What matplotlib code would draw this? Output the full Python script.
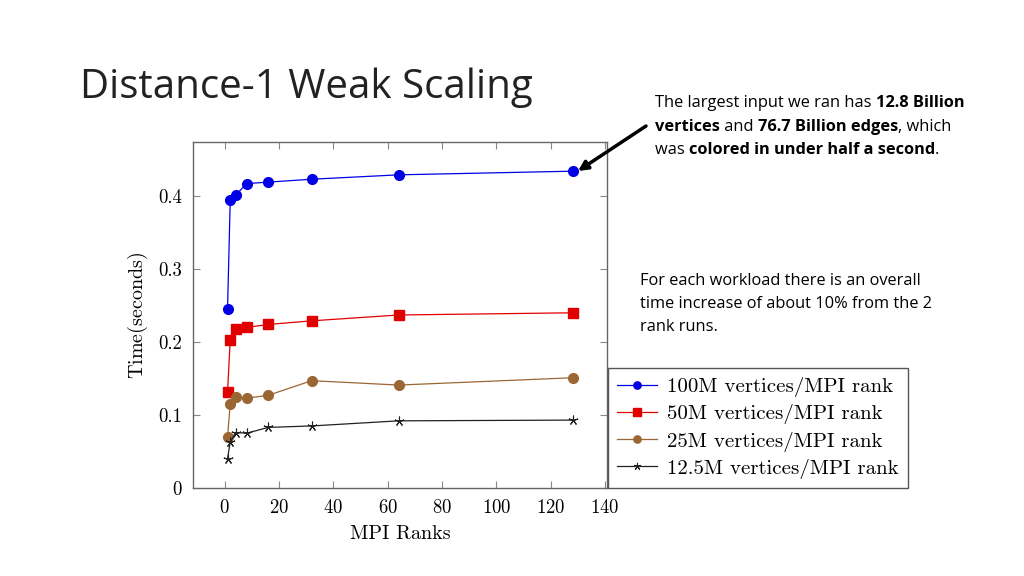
import matplotlib
matplotlib.use("Agg")
from matplotlib import pyplot as plt

ranks = [1, 2, 4, 8, 16, 32, 64, 128]
t_100m = [0.245, 0.394, 0.401, 0.417, 0.419, 0.423, 0.429, 0.434]
t_50m = [0.131, 0.203, 0.218, 0.220, 0.224, 0.229, 0.237, 0.240]
t_25m = [0.070, 0.115, 0.125, 0.123, 0.127, 0.147, 0.141, 0.151]
t_12m = [0.040, 0.063, 0.076, 0.075, 0.083, 0.085, 0.092, 0.093]
series_labels = ['100M vertices/MPI rank', '50M vertices/MPI rank',
                 '25M vertices/MPI rank', '12.5M vertices/MPI rank']
x_ticks = [0, 20, 40, 60, 80, 100, 120, 140]
y_ticks = [0, 0.1, 0.2, 0.3, 0.4]

plt.rcParams['font.family'] = 'cmr10'
plt.rcParams['mathtext.fontset'] = 'cm'
plt.rcParams['axes.formatter.use_mathtext'] = True

fig = plt.figure(figsize=(10.24, 5.76), dpi=100)
ax = fig.add_axes([0.1885, 0.1528, 0.4043, 0.6007])

ax.plot(ranks, t_100m, color='#0000e6', lw=0.9, marker='o', ms=7, label=series_labels[0])
ax.plot(ranks, t_50m, color='#e00000', lw=0.9, marker='s', ms=7, label=series_labels[1])
ax.plot(ranks, t_25m, color='#9a6634', lw=0.9, marker='o', ms=7, label=series_labels[2])
ax.plot(ranks, t_12m, color='#222222', lw=0.9, marker=(5, 2), ms=7, mew=0.8, label=series_labels[3])

ax.set_xlim(-11.7, 140.7)
ax.set_ylim(0, 0.474)
ax.set_xticks(x_ticks)
ax.set_yticks(y_ticks)
ax.set_yticklabels(['0', '0.1', '0.2', '0.3', '0.4'])
ax.tick_params(direction='in', top=True, right=True, color='#888888',
               length=5, labelsize=13.5, pad=8)
for s in ax.spines.values():
    s.set_color('#666666')
    s.set_linewidth(1.0)
ax.set_xlabel('MPI Ranks', fontsize=14.5, labelpad=6)
ax.set_ylabel(r'$\mathrm{Time(seconds)}$', fontsize=14.5, labelpad=6)

leg = fig.legend(loc='lower left', bbox_to_anchor=(608 / 1024, 1 - 488 / 576),
                 borderaxespad=0, fontsize=15, fancybox=False, edgecolor='#555555',
                 framealpha=1, handlelength=1.9, borderpad=0.45, labelspacing=0.34,
                 handletextpad=0.5, markerscale=0.75)
leg.get_frame().set_linewidth(1.0)

fig.text(80 / 1024, 1 - 88 / 576, 'Distance-1 Weak Scaling', fontsize=29,
         family='Open Sans', va='center', ha='left', color='#222222')

# annotation with mixed bold pieces, chained text after text
note_lines = [
    [('The largest input we ran has ', 'normal'), ('12.8 Billion', 'bold')],
    [('vertices', 'bold'), (' and ', 'normal'), ('76.7 Billion edges', 'bold'), (', which', 'normal')],
    [('was ', 'normal'), ('colored in under half a second', 'bold'), ('.', 'normal')],
]
line_y = [111, 135, 158]
for pieces, y in zip(note_lines, line_y):
    prev = None
    for txt, w in pieces:
        if prev is None:
            prev = fig.text(655 / 1024, 1 - y / 576, txt, fontsize=11.8, weight=w,
                            family='Open Sans', va='bottom', ha='left')
        else:
            prev = ax.annotate(txt, xy=(1, 0), xycoords=prev, va='bottom', ha='left',
                               fontsize=11.8, weight=w, family='Open Sans',
                               annotation_clip=False)

note2 = ['For each workload there is an overall',
         'time increase of about 10% from the 2',
         'rank runs.']
for i, line in enumerate(note2):
    fig.text(640 / 1024, 1 - (281 + 23 * i) / 576, line, fontsize=11.8,
             family='Open Sans', va='center', ha='left')

ax.annotate('', xy=(578 / 1024, 1 - 171 / 576), xycoords='figure fraction',
            xytext=(646 / 1024, 1 - 126 / 576), textcoords='figure fraction',
            arrowprops=dict(arrowstyle='-|>', color='black', lw=2.5,
                            mutation_scale=14, shrinkA=0, shrinkB=0))

fig.savefig('out.png', dpi=100)
